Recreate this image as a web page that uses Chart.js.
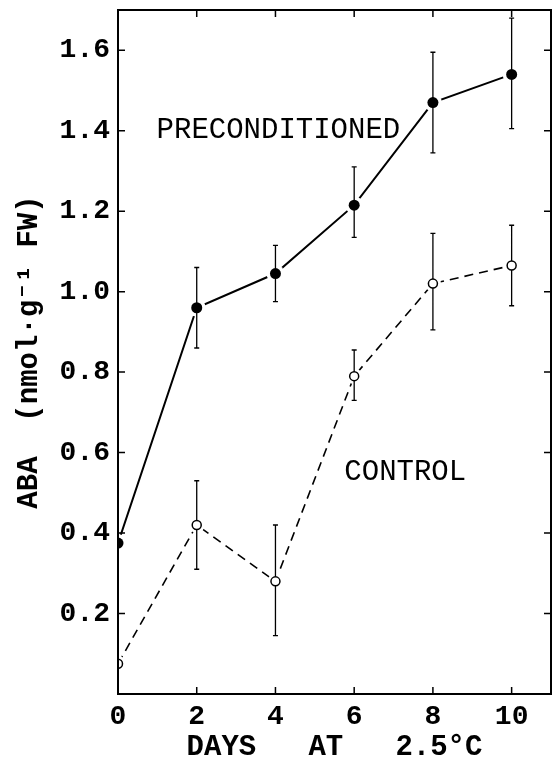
<!DOCTYPE html>
<html>
<head>
<meta charset="utf-8">
<script src="https://cdn.jsdelivr.net/npm/chart.js@4/dist/chart.umd.min.js"></script>
<style>
body { margin: 0; background: #fff; }
</style>
</head>
<body>
<canvas id="aba" width="554" height="768"></canvas>
<script>
var dias = [0, 2, 4, 6, 8, 10];
var precond = [0.375, 0.96, 1.045, 1.215, 1.47, 1.54];
var precondBaixo = [null, 0.86, 0.975, 1.135, 1.345, 1.405];
var precondAlto = [null, 1.06, 1.115, 1.31, 1.595, 1.68];
var controle = [0.075, 0.42, 0.28, 0.79, 1.02, 1.065];
var controleBaixo = [null, 0.31, 0.145, 0.73, 0.905, 0.965];
var controleAlto = [null, 0.53, 0.42, 0.855, 1.145, 1.165];
var ticksX = [0, 2, 4, 6, 8, 10];
var ticksY = [0.2, 0.4, 0.6, 0.8, 1.0, 1.2, 1.4, 1.6];

var fonte = '"Liberation Mono", "Courier New", monospace';

function pontos(ys) {
	let p = [];
	for (let i = 0; i < dias.length; i++) {
		p.push({ x: dias[i], y: ys[i] });
	}
	return p;
}

// caixa, marcas internas e textos
var moldura = {
	id: 'moldura',
	afterDraw: function (chart) {
		let ctx = chart.ctx;
		let a = chart.chartArea;
		let sx = chart.scales.x;
		let sy = chart.scales.y;
		ctx.save();
		ctx.strokeStyle = '#000';
		ctx.lineWidth = 2;
		ctx.strokeRect(a.left, a.top, a.right - a.left, a.bottom - a.top);
		ctx.lineWidth = 1.5;
		ctx.beginPath();
		for (let i = 0; i < ticksX.length; i++) {
			let px = sx.getPixelForValue(ticksX[i]);
			ctx.moveTo(px, a.bottom); ctx.lineTo(px, a.bottom - 7);
			ctx.moveTo(px, a.top); ctx.lineTo(px, a.top + 7);
		}
		for (let i = 0; i < ticksY.length; i++) {
			let py = sy.getPixelForValue(ticksY[i]);
			ctx.moveTo(a.left, py); ctx.lineTo(a.left + 7, py);
			ctx.moveTo(a.right, py); ctx.lineTo(a.right - 7, py);
		}
		ctx.stroke();
		ctx.fillStyle = '#000';
		ctx.font = '29px ' + fonte;
		ctx.textBaseline = 'middle';
		ctx.textAlign = 'left';
		ctx.fillText('PRECONDITIONED', sx.getPixelForValue(0.98), sy.getPixelForValue(1.4));
		ctx.fillText('CONTROL', sx.getPixelForValue(5.75), sy.getPixelForValue(0.55));
		ctx.restore();
	}
};

// barras de erro antes dos marcadores
var barrasErro = {
	id: 'barrasErro',
	beforeDatasetDraw: function (chart, args) {
		if (args.index !== 5) return;
		let ctx = chart.ctx;
		let sx = chart.scales.x;
		let sy = chart.scales.y;
		let grupos = [[precondBaixo, precondAlto], [controleBaixo, controleAlto]];
		ctx.save();
		ctx.strokeStyle = '#000';
		ctx.lineWidth = 1.3;
		ctx.beginPath();
		for (let g = 0; g < grupos.length; g++) {
			for (let i = 0; i < dias.length; i++) {
				if (grupos[g][0][i] === null) continue;
				let px = sx.getPixelForValue(dias[i]);
				let y1 = sy.getPixelForValue(grupos[g][0][i]);
				let y2 = sy.getPixelForValue(grupos[g][1][i]);
				ctx.moveTo(px, y1); ctx.lineTo(px, y2);
				ctx.moveTo(px - 2.5, y1); ctx.lineTo(px + 2.5, y1);
				ctx.moveTo(px - 2.5, y2); ctx.lineTo(px + 2.5, y2);
			}
		}
		ctx.stroke();
		ctx.restore();
	}
};

var grafico = new Chart(document.getElementById('aba'), {
	type: 'scatter',
	data: {
		datasets: [{
			label: 'Preconditioned',
			data: pontos(precond),
			showLine: true,
			borderColor: '#000',
			borderWidth: 2,
			pointRadius: 0,
			order: 5
		}, {
			label: 'Control',
			data: pontos(controle),
			showLine: true,
			borderColor: '#000',
			borderWidth: 1.6,
			borderDash: [9, 6],
			pointRadius: 0,
			order: 5
		}, {
			label: 'gap1',
			data: pontos(precond),
			pointRadius: 9,
			pointBorderWidth: 0,
			pointBackgroundColor: '#fff',
			order: 4
		}, {
			label: 'gap2',
			data: pontos(controle),
			pointRadius: 8,
			pointBorderWidth: 0,
			pointBackgroundColor: '#fff',
			order: 4
		}, {
			label: 'm1',
			data: pontos(precond),
			pointRadius: 5.5,
			pointBorderWidth: 0,
			pointBackgroundColor: '#000',
			order: 1
		}, {
			label: 'm2',
			data: pontos(controle),
			pointRadius: 4.5,
			pointBorderWidth: 1.5,
			pointBorderColor: '#000',
			pointBackgroundColor: '#fff',
			order: 1
		}]
	},
	options: {
		responsive: false,
		animation: false,
		layout: { autoPadding: false, padding: { top: 10, right: 3, left: 0, bottom: 0 } },
		plugins: {
			legend: { display: false },
			tooltip: { enabled: false }
		},
		scales: {
			x: {
				type: 'linear',
				min: 0,
				max: 11,
				afterFit: function (s) { s.height = 74; s.paddingLeft = 0; s.paddingRight = 0; },
				afterBuildTicks: function (s) { s.ticks = ticksX.map(function (v) { return { value: v }; }); },
				grid: { display: false, drawTicks: false },
				border: { display: false },
				ticks: {
					color: '#000',
					padding: 6,
					maxRotation: 0,
					font: { family: fonte, size: 28, weight: 'bold' }
				},
				title: {
					display: true,
					text: 'DAYS   AT   2.5°C',
					color: '#000',
					padding: { top: 0, bottom: 3 },
					font: { family: fonte, size: 29, weight: 'bold' }
				}
			},
			y: {
				type: 'linear',
				min: 0,
				max: 1.7,
				afterFit: function (s) { s.width = 118; s.paddingTop = 0; s.paddingBottom = 0; },
				afterBuildTicks: function (s) { s.ticks = ticksY.map(function (v) { return { value: v }; }); },
				grid: { display: false, drawTicks: false },
				border: { display: false },
				ticks: {
					color: '#000',
					padding: 8,
					font: { family: fonte, size: 28, weight: 'bold' },
					callback: function (v) { return v.toFixed(1); }
				},
				title: {
					display: true,
					text: 'ABA  (nmol·g⁻¹ FW)',
					color: '#000',
					padding: { top: 12, bottom: 0 },
					font: { family: fonte, size: 29, weight: 'bold' }
				}
			}
		}
	},
	plugins: [barrasErro, moldura]
});
</script>
</body>
</html>
